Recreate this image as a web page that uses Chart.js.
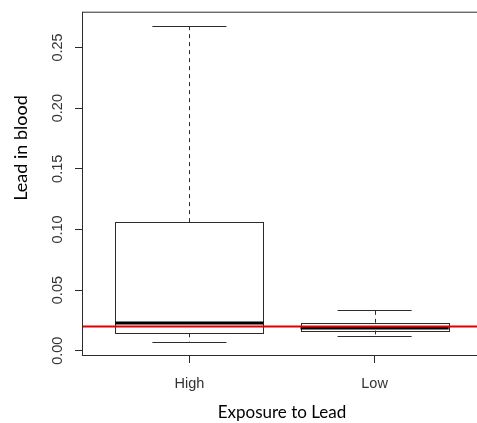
<!DOCTYPE html>
<html>
<head>
<meta charset="utf-8">
<script src="https://cdn.jsdelivr.net/npm/chart.js@4.4.1/dist/chart.umd.min.js"></script>
<style>
  html, body { margin: 0; padding: 0; background: #fff; overflow: hidden; }
  canvas { display: block; }
</style>
</head>
<body>
<canvas id="leadBox" width="486" height="423"></canvas>
<script>
// lead in blood by exposure group (box-and-whisker summary)
const groups = ["High", "Low"];
const whiskerLow = [0.0075, 0.0122];
const quartile1 = [0.0144, 0.0168];
const medians = [0.0229, 0.0187];
const quartile3 = [0.106, 0.023];
const whiskerHigh = [0.268, 0.0338];
const referenceLevel = 0.02;
const yTicks = [0, 0.05, 0.10, 0.15, 0.20, 0.25];

const lineColor = "#2b2b2b";
const boxWidth = 0.8;

// draws the frame, boxes, whiskers and the reference line on the scales
const boxPlotPlugin = {
    id: "boxPlot",
    afterDatasetsDraw(chart) {
        const { ctx, chartArea, scales: { x, y } } = chart;
        ctx.save();

        groups.forEach((g, i) => {
            const cx = x.getPixelForValue(i + 1);
            const half = x.getPixelForValue(i + 1 + boxWidth / 2) - cx;
            const cap = half / 2;
            const yLo = y.getPixelForValue(whiskerLow[i]);
            const yQ1 = y.getPixelForValue(quartile1[i]);
            const yMed = y.getPixelForValue(medians[i]);
            const yQ3 = y.getPixelForValue(quartile3[i]);
            const yHi = y.getPixelForValue(whiskerHigh[i]);

            // dashed whiskers
            ctx.strokeStyle = lineColor;
            ctx.lineWidth = 1;
            ctx.setLineDash([4, 4]);
            ctx.beginPath();
            ctx.moveTo(Math.round(cx) + 0.5, yQ3);
            ctx.lineTo(Math.round(cx) + 0.5, yHi);
            ctx.moveTo(Math.round(cx) + 0.5, yQ1);
            ctx.lineTo(Math.round(cx) + 0.5, yLo);
            ctx.stroke();
            ctx.setLineDash([]);

            // staples
            ctx.beginPath();
            ctx.moveTo(cx - cap, Math.round(yHi) + 0.5);
            ctx.lineTo(cx + cap, Math.round(yHi) + 0.5);
            ctx.moveTo(cx - cap, Math.round(yLo) + 0.5);
            ctx.lineTo(cx + cap, Math.round(yLo) + 0.5);
            ctx.stroke();

            // box
            ctx.fillStyle = "#fff";
            ctx.fillRect(cx - half, yQ3, half * 2, yQ1 - yQ3);
            ctx.strokeRect(Math.round(cx - half) + 0.5, Math.round(yQ3) + 0.5,
                Math.round(half * 2), Math.round(yQ1 - yQ3));

            // median
            ctx.lineWidth = 3;
            ctx.strokeStyle = "#000";
            ctx.beginPath();
            ctx.moveTo(cx - half, yMed);
            ctx.lineTo(cx + half, yMed);
            ctx.stroke();
        });

        // reference level across the plot
        ctx.save();
        ctx.beginPath();
        ctx.rect(chartArea.left, chartArea.top, chartArea.right - chartArea.left, chartArea.bottom - chartArea.top);
        ctx.clip();
        const yRef = y.getPixelForValue(referenceLevel);
        ctx.strokeStyle = "#e00000";
        ctx.lineWidth = 2;
        ctx.beginPath();
        ctx.moveTo(chartArea.left, yRef);
        ctx.lineTo(chartArea.right, yRef);
        ctx.stroke();
        ctx.restore();

        // frame
        ctx.strokeStyle = lineColor;
        ctx.lineWidth = 1;
        ctx.strokeRect(chartArea.left + 0.5, chartArea.top + 0.5,
            chartArea.right - chartArea.left, chartArea.bottom - chartArea.top);

        // y title
        ctx.fillStyle = "#000";
        ctx.font = "18px Lato";
        ctx.textAlign = "center";
        ctx.textBaseline = "middle";
        ctx.translate(21, 148);
        ctx.rotate(-Math.PI / 2);
        ctx.fillText("Lead in blood", 0, 0);

        ctx.restore();
    }
};

new Chart(document.getElementById("leadBox"), {
    type: "scatter",
    data: { datasets: [{ data: [] }] },
    options: {
        responsive: false,
        animation: false,
        layout: { padding: { top: 8, right: 4, left: 0, bottom: 0 } },
        plugins: { legend: { display: false }, tooltip: { enabled: false } },
        scales: {
            x: {
                type: "linear",
                min: 0.42,
                max: 2.58,
                afterBuildTicks: (axis) => { axis.ticks = groups.map((g, i) => ({ value: i + 1 })); },
                afterFit: (axis) => { axis.height = 68; },
                grid: { drawOnChartArea: false, tickLength: 8, color: lineColor },
                border: { display: false },
                ticks: {
                    autoSkip: false,
                    maxRotation: 0,
                    padding: 12,
                    color: "#333",
                    font: { family: "Liberation Sans", size: 14.5 },
                    callback: (v) => groups[v - 1]
                },
                title: {
                    display: true,
                    text: "Exposure to Lead",
                    color: "#000",
                    font: { family: "Lato", size: 17 },
                    padding: { top: 0, bottom: 0 }
                }
            },
            y: {
                min: -0.0035,
                max: 0.2795,
                afterBuildTicks: (axis) => { axis.ticks = yTicks.map(v => ({ value: v })); },
                afterFit: (axis) => { axis.width = 82; },
                grid: { drawOnChartArea: false, tickLength: 7, color: lineColor },
                border: { display: false },
                ticks: {
                    minRotation: 90,
                    maxRotation: 90,
                    crossAlign: "center",
                    padding: 3,
                    color: "#333",
                    font: { family: "Liberation Sans", size: 14.5 },
                    callback: (v) => v.toFixed(2)
                }
            }
        }
    },
    plugins: [boxPlotPlugin]
});
</script>
</body>
</html>
